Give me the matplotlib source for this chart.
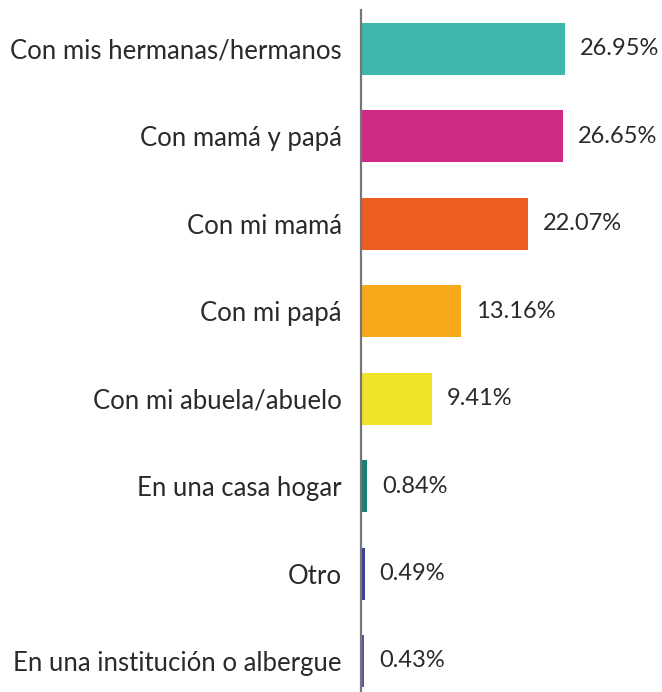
import matplotlib.pyplot as plt
from matplotlib.transforms import offset_copy

categories = ["Con mis hermanas/hermanos", "Con mamá y papá", "Con mi mamá",
              "Con mi papá", "Con mi abuela/abuelo", "En una casa hogar",
              "Otro", "En una institución o albergue"]
values = [26.95, 26.65, 22.07, 13.16, 9.41, 0.84, 0.49, 0.43]
colors = ["#3DB8AB", "#CE2A86", "#EC5F20", "#F7A71A", "#F1E22A",
          "#1A8070", "#3A3F9A", "#6B4E9B"]

plt.rcParams['font.family'] = ['Lato', 'DejaVu Sans']

W, H = 662, 692
fig = plt.figure(figsize=(W / 100, H / 100), dpi=100)
ax = fig.add_axes([361 / W, 0, 1 - 361 / W, (692 - 10) / H])

y = list(range(len(categories)))
ax.barh(y, values, height=0.595, color=colors, left=0)
ax.set_xlim(0, (W - 361) / 7.57)
ax.set_ylim(7.355, -0.446)

for s in ['top', 'right', 'bottom']:
    ax.spines[s].set_visible(False)
ax.spines['left'].set_color('#777777')
ax.spines['left'].set_linewidth(1.6)
ax.set_xticks([])
ax.set_yticks(y)
ax.set_yticklabels(categories, fontsize=18.5, fontweight='normal', color='#2a2a2a')
ax.tick_params(axis='y', length=0, pad=14)

trans = offset_copy(ax.transData, fig=fig, x=15, y=0, units='dots')
for yi, v in zip(y, values):
    ax.text(v, yi, f"{v:.2f}%", transform=trans, va='center', ha='left',
            fontsize=17, fontweight='normal', color='#2a2a2a')

fig.savefig("out.png", dpi=100)
